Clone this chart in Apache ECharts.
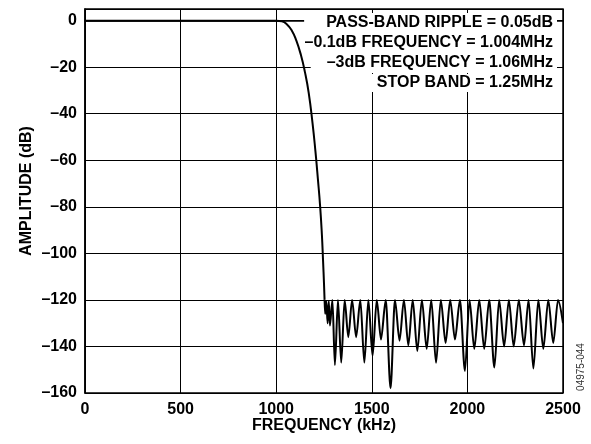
<!DOCTYPE html>
<html>
<head>
<meta charset="utf-8">
<script src="https://cdn.jsdelivr.net/npm/echarts@6/dist/echarts.min.js"></script>
<style>
  html, body { margin: 0; padding: 0; background: #fff; }
  #chart { width: 591px; height: 444px; }
</style>
</head>
<body>
<div id="chart"></div>
<script>
// pass band + transition (kHz, dB)
const passFreq = [0, 1000, 1030, 1055, 1080, 1105, 1130, 1150, 1170, 1190, 1205, 1218, 1230, 1239, 1245, 1250, 1253];
const passDb = [0, 0, -0.3, -1.5, -4, -8.5, -15, -22, -31, -44, -56, -68, -80, -92, -103, -113, -120];

// stop band nulls
const nullFreq = [1256, 1269, 1281, 1307, 1340, 1377, 1418, 1461, 1504, 1548, 1598, 1645, 1691, 1738, 1787, 1836,
  1886, 1935, 1987, 2036, 2088, 2141, 2192, 2242, 2296, 2345, 2397, 2449];
const nullDb = [-126, -130, -131, -148, -147, -136, -136, -147, -144, -137, -158, -137.5, -139.5, -142, -141, -147,
  -138.5, -137, -150.5, -141, -141, -149, -140, -140, -139.5, -149.5, -141, -138.5];

// lobe tops after each null
const peakFreq = [1262, 1275, 1294, 1323, 1358, 1397, 1440, 1482, 1526, 1573, 1621, 1668, 1714, 1762, 1811, 1861,
  1910, 1961, 2011, 2062, 2114, 2166, 2217, 2269, 2320, 2371, 2423, 2474];
const peakDb = [-120.5, -120.5, -120, -120, -120, -120, -120, -120, -120, -120, -120, -120, -120, -120, -120, -120,
  -120, -120, -120, -120, -120, -120, -120, -120, -120, -120, -120, -120];

const endFreq = 2500;
const endDb = -130;

const xTicks = [0, 500, 1000, 1500, 2000, 2500];

const notes = [
  'PASS-BAND RIPPLE = 0.05dB',
  '\u20130.1dB FREQUENCY = 1.004MHz',
  '\u20133dB FREQUENCY = 1.06MHz',
  'STOP BAND = 1.25MHz',
];
// white box behind each note line: [top, right, bottom, left]
const notePad = [[2, 4, 2, 22], [2, 4, 2, 3], [2, 4, 2, 16], [2, 4, 0, 6]];

const passPoints = passFreq.map((f, i) => [f, passDb[i]]);

const stopPoints = [passPoints[passPoints.length - 1]];
nullFreq.forEach((f, i) => {
  stopPoints.push([f, nullDb[i]]);
  stopPoints.push([peakFreq[i], peakDb[i]]);
});
stopPoints.push([endFreq, endDb]);

const font = '"Liberation Sans", Arial, Helvetica, sans-serif';
const dash = (v) => (v < 0 ? '\u2013' + Math.abs(v) : String(v));

const chart = echarts.init(document.getElementById('chart'));

chart.setOption({
  animation: false,
  backgroundColor: '#fff',
  grid: {
    left: 85,
    right: 28,
    top: 9,
    bottom: 51,
    show: true,
    borderColor: '#000',
    borderWidth: 1.5,
  },
  xAxis: {
    type: 'value',
    min: 0,
    max: 2500,
    interval: 500,
    axisLine: { lineStyle: { color: '#000', width: 1.5 } },
    axisTick: { show: false },
    axisLabel: {
      color: '#000',
      fontFamily: font,
      fontWeight: 'bold',
      fontSize: 16,
      margin: 9,
      formatter: (v) => (xTicks.includes(v) ? String(v) : ''),
    },
    splitLine: { show: true, lineStyle: { color: '#000', width: 1 } },
  },
  yAxis: {
    type: 'value',
    min: -160,
    max: 5,
    interval: 20,
    axisLine: { lineStyle: { color: '#000', width: 1.5 } },
    axisTick: { show: false },
    axisLabel: {
      color: '#000',
      fontFamily: font,
      fontWeight: 'bold',
      fontSize: 16,
      margin: 8,
      showMaxLabel: false,
      formatter: (v) => (v % 20 === 0 ? dash(v) : ''),
    },
    splitLine: { show: true, lineStyle: { color: '#000', width: 1 } },
  },
  series: [
    {
      // pass band and roll-off
      type: 'line',
      data: passPoints,
      showSymbol: false,
      smooth: 0.5,
      lineStyle: { color: '#000', width: 2 },
      z: 5,
    },
    {
      // stop band lobes
      type: 'line',
      data: stopPoints,
      showSymbol: false,
      smooth: 0.3,
      smoothMonotone: 'x',
      lineStyle: { color: '#000', width: 2 },
      z: 5,
    },
  ],
  graphic: [
    ...notes.map((t, i) => ({
      type: 'text',
      x: 557,
      y: 23 + i * 20,
      z: 1,
      style: {
        text: t,
        fill: '#000',
        font: 'bold 16px ' + font,
        textAlign: 'right',
        textVerticalAlign: 'middle',
        lineHeight: 16,
        backgroundColor: '#fff',
        padding: notePad[i],
      },
    })),
    {
      type: 'text',
      x: 27,
      y: 191,
      rotation: Math.PI / 2,
      style: {
        text: 'AMPLITUDE (dB)',
        fill: '#000',
        font: 'bold 16px ' + font,
        textAlign: 'center',
        textVerticalAlign: 'middle',
      },
    },
    {
      type: 'text',
      x: 324,
      y: 426,
      style: {
        text: 'FREQUENCY (kHz)',
        fill: '#000',
        font: 'bold 16px ' + font,
        textAlign: 'center',
        textVerticalAlign: 'middle',
      },
    },
    {
      type: 'text',
      x: 581,
      y: 367,
      rotation: Math.PI / 2,
      style: {
        text: '04975-044',
        fill: '#333',
        font: '10px ' + font,
        textAlign: 'center',
        textVerticalAlign: 'middle',
      },
    },
  ],
});
</script>
</body>
</html>
